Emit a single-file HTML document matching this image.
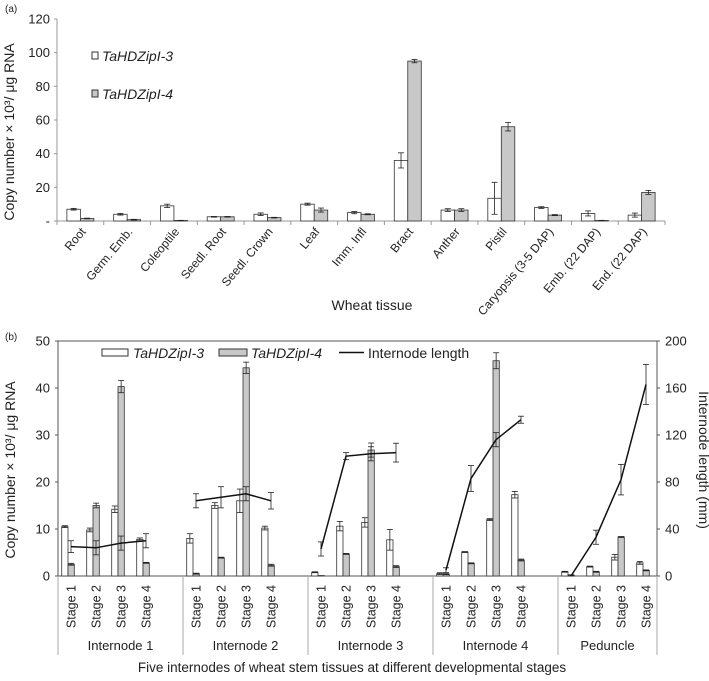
<!DOCTYPE html>
<html><head><meta charset="utf-8"><style>
body{margin:0;background:#fff;width:709px;height:676px;overflow:hidden}
svg{font-family:"Liberation Sans",sans-serif;fill:#222}
</style></head><body>
<svg id="s" width="709" height="676" xmlns="http://www.w3.org/2000/svg"></svg>
<script>
// Panel (a) data
const tissues=["Root","Germ. Emb.","Coleoptile","Seedl. Root","Seedl. Crown","Leaf","Imm. Infl","Bract","Anther","Pistil","Caryopsis (3-5 DAP)","Emb. (22 DAP)","End. (22 DAP)"];
const hd3=[7,4,9,2.5,4,10,5,36,6.5,13.5,8,4.5,3.5];
const hd3Err=[0.5,0.5,1,0.2,0.8,0.6,0.7,4.5,0.8,9.5,0.5,1.5,1.2];
const hd4=[1.5,0.8,0.3,2.5,2,6.5,4,95,6.5,56,3.5,0.3,17];
const hd4Err=[0.2,0.2,0.1,0.2,0.2,1.2,0.3,1,0.8,2.5,0.3,0.1,1.2];
const aTicks=[0,20,40,60,80,100,120];
const aTickLabels=["-","20","40","60","80","100","120"];
// Panel (b) data
const groups=["Internode 1","Internode 2","Internode 3","Internode 4","Peduncle"];
const stages=["Stage 1","Stage 2","Stage 3","Stage 4"];
const b3=[10.5,9.8,14.2,7.8, 8,15,16,10.2, 0.8,10.6,11.4,7.7, 0.5,5.1,12,17.3, 0.9,2,4,2.8];
const b3Err=[0.2,0.4,0.7,0.3, 1,0.6,2.5,0.4, 0.1,1,1,2.2, 0.2,0.1,0.2,0.7, 0.1,0.1,0.6,0.3];
const b4=[2.5,15,40.3,2.8, 0.5,3.9,44.3,2.3, 0.1,4.7,26.8,2, 0.4,2.7,45.8,3.4, 0.2,0.9,8.3,1.2];
const b4Err=[0.2,0.5,1.3,0.1, 0.1,0.1,1.2,0.2, 0,0.1,1.5,0.2, 0.1,0.1,1.7,0.2, 0,0.1,0.1,0.1];
const lenMM=[25,24,28,30, 64,67,70,64, 23,102,104,105, 5,83,116,133, 0,33,82,163];
const lenErr=[5,6,6,6, 6,9,6,7, 6,3,6,8, 2,11,6,3, 1,6,13,17];
const bTicks=[0,10,20,30,40,50];
const rTicks=[0,40,80,120,160,200];

const S=document.getElementById('s');const NS="http://www.w3.org/2000/svg";
function mk(t,a,p){const e=document.createElementNS(NS,t);for(const k in a)e.setAttribute(k,a[k]);(p||S).appendChild(e);return e;}
function txt(x,y,s,a,p){const e=mk('text',Object.assign({x:x,y:y},a),p);e.textContent=s;return e;}

// ---- Panel (a)
const ax0=57,ax1=665,ay0=221,ay1=19;
const ya=v=>ay0-(v/120)*(ay0-ay1);
const cw=(ax1-ax0)/13;
const xa=i=>ax0+cw*(i+0.5);
let t=txt(5,12,"(a)",{"font-size":10});

let g=mk('g',{});
mk('line',{x1:ax0,y1:ay1,x2:ax0,y2:ay0,stroke:"#999"},g);
aTicks.forEach((v,i)=>{mk('line',{x1:ax0-3,x2:ax0,y1:ya(v),y2:ya(v),stroke:"#999"},g);txt(50,ya(v)+4.5,aTickLabels[i],{"text-anchor":"end","font-size":13},g);});
t=txt(0,0,"Copy number × 10³/ μg RNA",{"font-size":14,"text-anchor":"middle",transform:"translate(14,132) rotate(-90)"});

g=mk('g',{});
mk('line',{x1:ax0,y1:ay0,x2:ax1,y2:ay0,stroke:"#999"},g);
for(let i=0;i<=13;i++)mk('line',{x1:ax0+cw*i,x2:ax0+cw*i,y1:ay0,y2:ay0+4,stroke:"#999"},g);
tissues.forEach((s,i)=>{txt(0,0,s,{"font-size":12,"text-anchor":"end",transform:`translate(${xa(i)+6},${ay0+11}) rotate(-50)`},g);});
t=txt(372,310,"Wheat tissue",{"font-size":14,"text-anchor":"middle"});

function errbar(x,v,e,yf,p){if(e<=0)return;mk('line',{x1:x,x2:x,y1:yf(v+e),y2:yf(Math.max(0,v-e)),stroke:"#222","stroke-width":0.8},p);
[v+e,Math.max(0,v-e)].forEach(q=>mk('line',{x1:x-3,x2:x+3,y1:yf(q),y2:yf(q),stroke:"#222","stroke-width":0.8},p));}
tissues.forEach((s,i)=>{
 const w=13.5,c=xa(i);
 let r=mk('rect',{x:c-w,y:ya(hd3[i]),width:w,height:ay0-ya(hd3[i]),fill:"#fff",stroke:"#333","stroke-width":0.8});
 
 errbar(c-w/2,hd3[i],hd3Err[i],ya);
 r=mk('rect',{x:c,y:ya(hd4[i]),width:w,height:ay0-ya(hd4[i]),fill:"#c8c8c8",stroke:"#333","stroke-width":0.8});
 
 errbar(c+w/2,hd4[i],hd4Err[i],ya);
});
g=mk('g',{});
mk('rect',{x:92,y:52,width:6,height:7,fill:"#fff",stroke:"#333"},g);
txt(102,61,"TaHDZipI-3",{"font-size":14,"font-style":"italic"},g);
mk('rect',{x:92,y:90,width:6,height:7,fill:"#c8c8c8",stroke:"#333"},g);
txt(102,99,"TaHDZipI-4",{"font-size":14,"font-style":"italic"},g);

// ---- Panel (b)
const bx0=58,bx1=657,by0=576,by1=341;
const yb=v=>by0-(v/50)*(by0-by1);
const yr=v=>by0-(v/200)*(by0-by1);
const slot=25;
const xb=i=>bx0+13+(Math.floor(i/4)*5+i%4)*slot;
t=txt(5,340,"(b)",{"font-size":10});

mk('line',{x1:bx0,y1:by1,x2:bx1,y2:by1,stroke:"#555"});
g=mk('g',{});
mk('line',{x1:bx0,y1:by1,x2:bx0,y2:by0,stroke:"#555"},g);
bTicks.forEach(v=>{mk('line',{x1:bx0-3,x2:bx0,y1:yb(v),y2:yb(v),stroke:"#555"},g);txt(50,yb(v)+4.5,String(v),{"text-anchor":"end","font-size":13},g);});
t=txt(0,0,"Copy number × 10³/ μg RNA",{"font-size":14,"text-anchor":"middle",transform:"translate(15,470) rotate(-90)"});

g=mk('g',{});
mk('line',{x1:bx1,y1:by1,x2:bx1,y2:by0,stroke:"#555"},g);
rTicks.forEach(v=>{mk('line',{x1:bx1,x2:bx1+3,y1:yr(v),y2:yr(v),stroke:"#555"},g);txt(665,yr(v)+4.5,String(v),{"font-size":13},g);});
t=txt(0,0,"Internode length (mm)",{"font-size":14,"text-anchor":"middle",transform:"translate(699,460) rotate(90)"});

g=mk('g',{});
mk('line',{x1:bx0,y1:by0,x2:bx1,y2:by0,stroke:"#555"},g);
for(let k=0;k<=5;k++){const x=k<5?bx0+k*125:bx1;mk('line',{x1:x,x2:x,y1:by0,y2:655,stroke:"#aaa"},g);}
groups.forEach((s,k)=>{const cx=k<4?bx0+k*125+62.5:(bx0+500+bx1)/2;txt(cx,650,s,{"font-size":13,"text-anchor":"middle"},g);});
for(let i=0;i<20;i++)txt(0,0,stages[i%4],{"font-size":12.5,"text-anchor":"end",transform:`translate(${xb(i)+4.5},${585}) rotate(-90)`},g);
t=txt(352,672,"Five internodes of wheat stem tissues at different developmental stages",{"font-size":13.5,"text-anchor":"middle"});

for(let i=0;i<20;i++){
 const c=xb(i),w=6.3;
 let r=mk('rect',{x:c-3-w,y:yb(b3[i]),width:w,height:by0-yb(b3[i]),fill:"#fff",stroke:"#333","stroke-width":0.8});
 
 errbar(c-3-w/2,b3[i],b3Err[i],yb);
 r=mk('rect',{x:c-3,y:yb(b4[i]),width:w,height:by0-yb(b4[i]),fill:"#c8c8c8",stroke:"#333","stroke-width":0.8});
 
 errbar(c-3+w/2,b4[i],b4Err[i],yb);
}
for(let k=0;k<5;k++){
 let pts=[];for(let j=0;j<4;j++){const i=k*4+j;pts.push(xb(i)+','+yr(lenMM[i]));errbar(xb(i),lenMM[i],lenErr[i],yr);}
 const pl=mk('polyline',{points:pts.join(' '),fill:"none",stroke:"#111","stroke-width":1.5});
 
}
g=mk('g',{});
mk('rect',{x:102,y:349,width:26,height:7,fill:"#fff",stroke:"#333"},g);
txt(133,358,"TaHDZipI-3",{"font-size":14,"font-style":"italic"},g);
mk('rect',{x:219,y:349,width:28,height:7,fill:"#c8c8c8",stroke:"#333"},g);
txt(251,358,"TaHDZipI-4",{"font-size":14,"font-style":"italic"},g);
mk('line',{x1:339,x2:364,y1:352.5,y2:352.5,stroke:"#111","stroke-width":1.5},g);
txt(368,358,"Internode length",{"font-size":14},g);
</script>
</body></html>
